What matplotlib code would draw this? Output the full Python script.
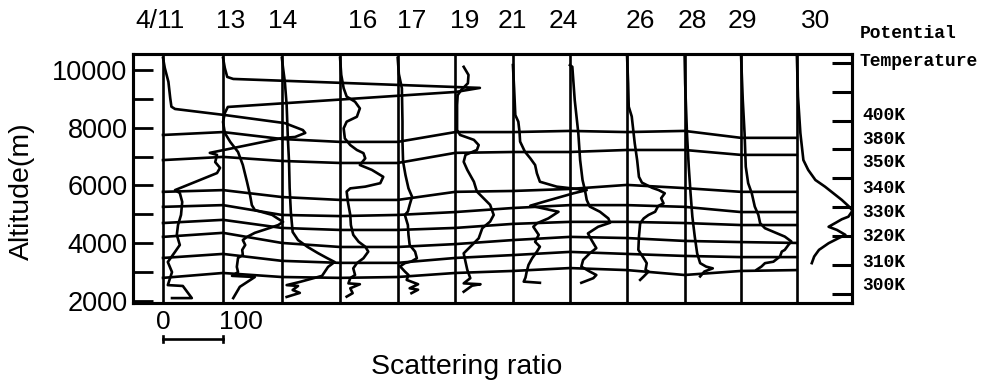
import numpy as np
import matplotlib.pyplot as plt

plt.rcParams['font.family'] = ['Liberation Sans', 'DejaVu Sans']

DATES = ["4/11", "13", "14", "16", "17", "19", "21", "24", "26", "28", "29", "30"]
# each profile is shifted along the scattering-ratio axis by its baseline
OFFSETS = [0, 100, 198, 295, 391, 487, 583, 678, 773, 869, 963, 1056]
DATE_LABEL_X = [-5, 112, 200, 332, 415, 503, 582, 667, 795, 882, 965, 1087]

# altitude (km) and scattering ratio
ALT_0411 = [10.42, 10.07, 9.59, 9.03, 8.73, 8.65, 8.44, 8.16, 7.92, 7.82, 7.68, 7.65, 7.13, 7.06, 6.81, 6.61,
            6.43, 5.84, 5.74, 5.43, 4.98, 4.63, 4.29, 3.94, 3.70, 3.35, 3.00, 2.55, 2.52, 2.10, 2.10]
SR_0411 = [0, 3, 9, 12, 14, 20, 103, 203, 233, 237, 220, 200, 78, 90, 87, 95,
           90, 20, 28, 32, 30, 25, 23, 28, 20, 8, 15, 8, 33, 48, 15]

ALT_13 = [10.42, 10.07, 9.76, 9.69, 9.38, 9.24, 8.72, 8.51, 8.20, 7.82, 7.51, 7.16, 6.71, 6.12, 5.67, 5.32, 5.15, 4.98,
          4.87, 4.74, 4.63, 4.53, 4.36, 4.22, 4.11, 3.94, 3.77, 3.59, 3.49, 3.18, 3.00, 2.87, 2.83, 2.49, 2.10]
SR_13 = [0, 3, 7, 17, 428, 388, 8, 3, 0, 3, 12, 25, 33, 40, 45, 48, 53, 82,
         90, 100, 92, 78, 53, 40, 33, 37, 32, 33, 25, 23, 25, 15, 53, 28, 17]

ALT_14 = [10.42, 10.07, 9.59, 8.79, 7.65, 6.81, 5.91, 5.08, 4.39, 4.11, 3.87, 3.66, 3.49, 3.35, 3.18, 2.87,
          2.66, 2.55, 2.52, 2.38, 2.28, 2.14]
SR_14 = [0, 2, 5, 8, 10, 12, 13, 15, 18, 27, 43, 60, 75, 88, 77, 67, 30, 8, 27, 18, 30, 8]

ALT_16 = [10.42, 9.83, 9.37, 9.08, 8.90, 8.67, 8.38, 8.21, 7.98, 7.63, 7.40, 7.23, 7.12, 6.94, 6.71, 6.54, 6.30,
          6.08, 5.96, 5.90, 5.79, 5.44, 4.98, 4.63, 4.29, 4.05, 3.88, 3.71, 3.48, 3.31, 3.13, 2.90, 2.79, 2.61,
          2.58, 2.44, 2.27, 2.15]
SR_16 = [0, 2, 6, 11, 25, 33, 28, 11, 6, 8, 17, 28, 39, 42, 33, 53, 72, 67, 42, 17, 11, 13, 17, 18, 22, 31,
         42, 47, 39, 28, 22, 25, 17, 14, 33, 17, 21, 11]

ALT_17 = [10.42, 9.86, 9.37, 8.21, 7.52, 6.83, 6.36, 5.90, 5.61, 5.33, 5.10, 4.98, 4.63, 4.29, 3.94, 3.71, 3.48,
          3.37, 3.31, 3.20, 3.02, 2.90, 2.73, 2.58, 2.44, 2.39, 2.27]
SR_17 = [0, 2, 7, 8, 8, 9, 13, 18, 24, 20, 17, 12, 17, 18, 20, 29, 32, 23, 12, 4, 12, 18, 15, 34, 20, 34, 23]

ALT_19 = [10.11, 9.83, 9.54, 9.31, 9.13, 8.79, 7.92, 7.75, 7.58, 7.40, 7.23, 7.06, 6.82, 6.54, 6.13, 5.79, 5.56,
          5.33, 4.98, 4.75, 4.52, 4.17, 3.94, 3.65, 3.36, 3.08, 2.79, 2.61, 2.58, 2.53, 2.32]
SR_19 = [14, 22, 21, 10, 4, 3, 3, 8, 31, 39, 36, 17, 14, 20, 31, 36, 47, 58, 64, 58, 45, 39, 28, 14, 17, 20,
         25, 14, 42, 28, 14]

ALT_21 = [10.17, 9.37, 8.44, 8.21, 7.86, 7.52, 7.17, 6.94, 6.71, 6.42, 6.13, 5.96, 5.84, 5.73, 5.50, 5.30, 5.23,
          5.09, 4.86, 4.69, 4.57, 4.29, 4.05, 3.88, 3.71, 3.48, 3.25, 3.02, 2.81, 2.67, 2.63]
SR_21 = [0, 2, 4, 9, 11, 12, 20, 29, 37, 40, 45, 73, 123, 101, 62, 29, 45, 76, 59, 40, 34, 43, 37, 45, 40, 32,
         26, 23, 21, 18, 45]

ALT_24 = [10.17, 10.11, 8.96, 7.81, 6.88, 6.19, 5.84, 5.50, 5.27, 5.09, 4.86, 4.71, 4.57, 4.34, 4.11, 3.83, 3.65,
          3.42, 3.19, 3.02, 2.90, 2.79, 2.63]
SR_24 = [0, 4, 8, 14, 17, 21, 25, 28, 33, 50, 64, 67, 47, 30, 36, 44, 33, 22, 19, 33, 44, 39, 19]

ALT_26 = [10.58, 9.54, 8.73, 8.39, 7.46, 6.88, 6.30, 6.10, 5.92, 5.84, 5.73, 5.56, 5.38, 5.29, 5.09, 4.98, 4.86,
          4.69, 4.23, 3.77, 3.48, 3.31, 3.08, 3.02, 2.85, 2.73]
SR_26 = [0, 2, 3, 8, 13, 17, 20, 25, 42, 53, 63, 57, 61, 52, 47, 36, 28, 22, 20, 19, 28, 33, 31, 36, 28, 22]

ALT_28 = [10.58, 9.54, 7.81, 6.65, 5.73, 4.92, 4.23, 3.65, 3.31, 3.19, 3.13, 3.02, 2.85]
SR_28 = [0, 1, 4, 7, 10, 13, 17, 21, 26, 36, 47, 33, 26]

ALT_29 = [10.58, 8.96, 7.81, 6.65, 6.08, 5.73, 5.27, 4.98, 4.69, 4.52, 4.37, 4.23, 4.06, 3.94, 3.77, 3.71, 3.54,
          3.36, 3.31, 3.19, 3.08]
SR_29 = [0, 3, 6, 8, 12, 18, 23, 29, 32, 40, 57, 73, 84, 79, 73, 68, 65, 54, 40, 34, 26]

ALT_30 = [10.58, 9.08, 7.81, 6.88, 6.54, 6.19, 5.96, 5.73, 5.50, 5.29, 5.13, 4.92, 4.83, 4.71, 4.57, 4.46, 4.29,
          4.17, 4.00, 3.77, 3.54, 3.31]
SR_30 = [0, 2, 6, 11, 19, 31, 47, 61, 75, 86, 93, 86, 75, 65, 53, 67, 81, 69, 53, 37, 29, 25]

# isentrope altitudes (km) at each date, top to bottom
ISEN_1 = [7.75, 7.85, 7.61, 7.51, 7.51, 7.85, 7.85, 7.89, 7.85, 7.89, 7.65, 7.65]
ISEN_2 = [6.88, 6.99, 6.85, 6.78, 6.78, 7.13, 7.16, 7.16, 7.23, 7.23, 7.06, 7.06]
ISEN_3 = [5.78, 5.84, 5.60, 5.50, 5.50, 5.78, 5.81, 5.88, 6.02, 5.91, 5.78, 5.78]
ISEN_4 = [5.26, 5.32, 4.98, 4.94, 4.98, 5.08, 5.22, 5.32, 5.32, 5.26, 5.08, 5.08]
ISEN_5 = [4.70, 4.81, 4.53, 4.46, 4.46, 4.53, 4.67, 4.74, 4.74, 4.70, 4.63, 4.63]
ISEN_6 = [4.22, 4.36, 4.01, 3.87, 3.87, 3.97, 4.11, 4.22, 4.18, 4.08, 4.04, 4.01]
ISEN_7 = [3.49, 3.63, 3.39, 3.32, 3.32, 3.49, 3.59, 3.70, 3.63, 3.56, 3.52, 3.52]
ISEN_8 = [2.80, 2.97, 2.83, 2.80, 2.83, 2.97, 3.04, 3.14, 3.07, 2.90, 3.04, 3.07]

THETA_LABELS = ["400K", "380K", "350K", "340K", "330K", "320K", "310K", "300K"]
THETA_LABEL_ALT = [8.44, 7.58, 6.78, 5.91, 5.08, 4.22, 3.35, 2.55]


def main():
    profiles = [(ALT_0411, SR_0411), (ALT_13, SR_13), (ALT_14, SR_14), (ALT_16, SR_16),
                (ALT_17, SR_17), (ALT_19, SR_19), (ALT_21, SR_21), (ALT_24, SR_24),
                (ALT_26, SR_26), (ALT_28, SR_28), (ALT_29, SR_29), (ALT_30, SR_30)]
    isentropes = [ISEN_1, ISEN_2, ISEN_3, ISEN_4, ISEN_5, ISEN_6, ISEN_7, ISEN_8]
    lw = 1.9

    fig = plt.figure(figsize=(9.87, 3.83), dpi=100)
    ax = fig.add_axes([133 / 987, 1 - 303 / 383, 719 / 987, 249 / 383])
    ylim = (1930, 10554)
    ax.set_xlim(-50, 1148)
    ax.set_ylim(*ylim)

    for off in OFFSETS:
        ax.axvline(off, color='k', lw=lw)

    for off, (alt, sr) in zip(OFFSETS, profiles):
        ax.plot(off + np.array(sr), np.array(alt) * 1000, color='k', lw=lw)

    for isen in isentropes:
        ax.plot(OFFSETS, np.array(isen) * 1000, color='k', lw=lw)

    for sp in ax.spines.values():
        sp.set_linewidth(2.2)
    ax.set_xticks([])
    ax.set_yticks(range(2000, 10001, 1000))
    ax.set_yticklabels([str(v) if v % 2000 == 0 else "" for v in range(2000, 10001, 1000)])
    ax.tick_params(axis='y', direction='in', length=14.5, width=2, labelsize=19.5, pad=4)

    ax2 = ax.twinx()
    ax2.set_ylim(*ylim)
    ax2.set_yticks(range(2250, 10251, 1000))
    ax2.tick_params(axis='y', direction='in', length=14.5, width=2.2, labelright=False)
    for sp in ax2.spines.values():
        sp.set_linewidth(2.2)

    # date labels above each profile
    for x, d in zip(DATE_LABEL_X, DATES):
        ax.text(x, 11680, d, ha='center', va='center', fontsize=19, clip_on=False)

    # scale bar for the scattering ratio
    ax.plot([0, 100], [690, 690], color='k', lw=lw, clip_on=False)
    ax.plot([0, 0], [580, 790], color='k', lw=lw, clip_on=False)
    ax.plot([100, 100], [580, 790], color='k', lw=lw, clip_on=False)
    ax.text(0, 1270, "0", ha='center', va='center', fontsize=19, clip_on=False)
    ax.text(130, 1270, "100", ha='center', va='center', fontsize=19, clip_on=False)

    fig.text(467 / 987, 1 - 367 / 383, "Scattering ratio", ha='center', va='center', fontsize=20.5)
    fig.text(22 / 987, 1 - 191 / 383, "Altitude(m)", ha='center', va='center', rotation=90, fontsize=20.5)

    mono = dict(family='Liberation Mono', weight='bold', fontsize=13, ha='left', va='center')
    fig.text(860 / 987, 1 - 34 / 383, "Potential", **mono)
    fig.text(860 / 987, 1 - 62 / 383, "Temperature", **mono)
    for lab, a in zip(THETA_LABELS, THETA_LABEL_ALT):
        ax.text(1165, a * 1000, lab, clip_on=False, **mono)

    fig.savefig("out.png", dpi=100)


if __name__ == "__main__":
    main()
